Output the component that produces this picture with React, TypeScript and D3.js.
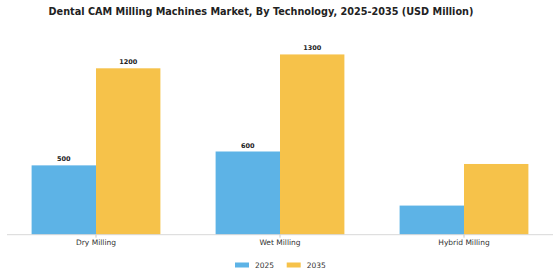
import React from "react";
import * as d3 from "d3";

const title = "Dental CAM Milling Machines Market, By Technology, 2025-2035 (USD Million)";
const categories = ["Dry Milling", "Wet Milling", "Hybrid Milling"];
const seriesNames = ["2025", "2035"];
const values2025 = [500, 600, 210];
const values2035 = [1200, 1300, 510];
const labeled2025 = [true, true, false];
const labeled2035 = [true, true, false];
const colors = ["#5DB3E6", "#F6C24A"];

export default function App() {
  const W = 560, H = 280;
  const baseline = 234.7;
  const x0 = d3.scaleBand<string>().domain(categories).range([4, 556]).paddingInner(0.3).paddingOuter(0.15);
  const x1 = d3.scaleBand<string>().domain(seriesNames).range([0, x0.bandwidth()]);
  const y = d3.scaleLinear().domain([0, 1200]).range([baseline, 68.3]);
  const series = [values2025, values2035];
  const labeled = [labeled2025, labeled2035];
  return (
    <svg width={W} height={H} style={{ position: "absolute", left: 0, top: 0, background: "#fff" }} fontFamily="DejaVu Sans, sans-serif">
      <text x={261} y={14.5} textAnchor="middle" fontSize={9.7} fontWeight="bold" fill="#222">{title}</text>
      {categories.map((c, i) => (
        <g key={c}>
          {series.map((vals, s) => {
            const bx = (x0(c) as number) + (x1(seriesNames[s]) as number);
            const by = y(vals[i]);
            return (
              <g key={s}>
                <rect x={bx} y={by} width={x1.bandwidth()} height={baseline - by} fill={colors[s]} />
                {labeled[s][i] && (
                  <text x={bx + x1.bandwidth() / 2} y={by - 4} textAnchor="middle" fontSize={6.5} fontWeight="bold" fill="#222">{vals[i]}</text>
                )}
              </g>
            );
          })}
        </g>
      ))}
      <line x1={7} x2={553} y1={baseline} y2={baseline} stroke="#d8d8d8" strokeWidth={1} />
      {categories.map((c) => {
        const cx = (x0(c) as number) + x0.bandwidth() / 2;
        return (
          <g key={c}>
            <line x1={cx} x2={cx} y1={baseline} y2={baseline + 3} stroke="#bbb" strokeWidth={0.8} />
            <text x={cx} y={245} textAnchor="middle" fontSize={7.5} fill="#333">{c}</text>
          </g>
        );
      })}
      {seriesNames.map((n, s) => {
        const lx = 235 + s * 51.7;
        return (
          <g key={n}>
            <rect x={lx} y={262.5} width={14} height={5} fill={colors[s]} />
            <text x={lx + 20} y={268} fontSize={7.5} fill="#333">{n}</text>
          </g>
        );
      })}
    </svg>
  );
}
